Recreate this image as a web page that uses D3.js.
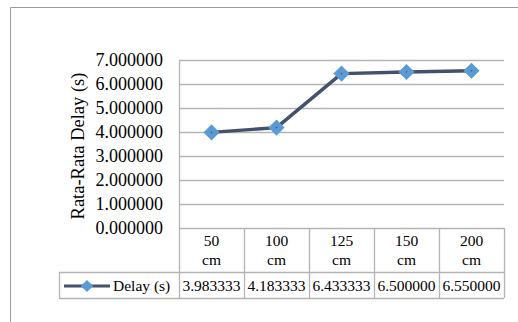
<!DOCTYPE html>
<html>
<head>
<meta charset="utf-8">
<script src="https://cdn.jsdelivr.net/npm/d3@7"></script>
<style>
  html, body { margin: 0; padding: 0; background: #fff; }
  svg { display: block; }
</style>
</head>
<body>
<svg id="chart" width="518" height="322" font-family="'Liberation Serif', 'Times New Roman', 'DejaVu Serif', serif"></svg>
<script>
// Average delay per distance
const categories = ["50 cm", "100 cm", "125 cm", "150 cm", "200 cm"];
const delayValues = [3.983333, 4.183333, 6.433333, 6.500000, 6.550000];
const yTicks = [0, 1, 2, 3, 4, 5, 6, 7];
const seriesName = "Delay (s)";
const yTitle = "Rata-Rata Delay (s)";

const svg = d3.select("#chart");
const W = 518, H = 322;
const serif = "'Liberation Serif', 'Times New Roman', 'DejaVu Serif', serif";

const plot = { left: 179, right: 504, top: 60, bottom: 228 };
const rowHeader = { top: 228, bottom: 272 };
const rowValues = { top: 272, bottom: 298 };
const legendLeft = 59;

const gridColor = "#b4b4b4";
const lineColor = "#42526a";
const markerColor = "#5b9bd5";

// Outer chart frame (top and left edges visible)
svg.append("path")
  .attr("d", `M10.5,${H} L10.5,7.5 L${W},7.5`)
  .attr("fill", "none").attr("stroke", "#9a9a9a").attr("stroke-width", 1);

const x = d3.scaleBand().domain(categories).range([plot.left, plot.right]);
const y = d3.scaleLinear().domain([0, 7]).range([plot.bottom, plot.top]);

// Horizontal gridlines
svg.append("g").selectAll("line").data(yTicks).join("line")
  .attr("x1", plot.left).attr("x2", plot.right)
  .attr("y1", d => Math.round(y(d)) + 0.5).attr("y2", d => Math.round(y(d)) + 0.5)
  .attr("stroke", gridColor).attr("stroke-width", 1.3);

// Y axis labels
const fmt = d3.format(".6f");
svg.append("g").selectAll("text").data(yTicks).join("text")
  .attr("font-family", serif)
  .attr("x", 163).attr("y", d => y(d))
  .attr("dy", "0.36em")
  .attr("text-anchor", "end")
  .attr("font-size", 18)
  .text(d => fmt(d));

// Y axis title
svg.append("text")
  .attr("font-family", serif)
  .attr("transform", `translate(84,${(plot.top + plot.bottom) / 2 + 2}) rotate(-90)`)
  .attr("text-anchor", "middle")
  .attr("font-size", 18.5)
  .text(yTitle);

// Data table grid
const tbl = svg.append("g").attr("stroke", gridColor).attr("stroke-width", 1.3).attr("fill", "none");
const colEdges = categories.map(c => x(c)).concat([plot.right]);
colEdges.forEach(cx => {
  const xx = Math.round(cx) + 0.5;
  tbl.append("line").attr("x1", xx).attr("x2", xx)
    .attr("y1", cx === plot.left ? plot.top : rowHeader.top)
    .attr("y2", rowValues.bottom);
});
tbl.append("line").attr("x1", legendLeft + 0.5).attr("x2", legendLeft + 0.5)
  .attr("y1", rowValues.top).attr("y2", rowValues.bottom);
tbl.append("line").attr("x1", legendLeft).attr("x2", plot.right)
  .attr("y1", rowValues.top + 0.5).attr("y2", rowValues.top + 0.5);
tbl.append("line").attr("x1", legendLeft).attr("x2", plot.right)
  .attr("y1", rowValues.bottom + 0.5).attr("y2", rowValues.bottom + 0.5);

// Category labels (two lines each)
const catG = svg.append("g").selectAll("text").data(categories).join("text")
  .attr("font-family", serif)
  .attr("text-anchor", "middle")
  .attr("font-size", 15.5);
catG.each(function(d) {
  const parts = d.split(" ");
  const t = d3.select(this);
  const cx = x(d) + x.bandwidth() / 2;
  t.append("tspan").attr("x", cx).attr("y", 246).text(parts[0]);
  t.append("tspan").attr("x", cx).attr("y", 265).text(parts[1]);
});

// Value row
svg.append("g").selectAll("text").data(delayValues).join("text")
  .attr("font-family", serif)
  .attr("x", (d, i) => x(categories[i]) + x.bandwidth() / 2)
  .attr("y", 291)
  .attr("text-anchor", "middle")
  .attr("font-size", 15.5)
  .text(d => fmt(d));

// Legend key inside the table
const legY = 286;
svg.append("line").attr("x1", 64).attr("x2", 110).attr("y1", legY).attr("y2", legY)
  .attr("stroke", lineColor).attr("stroke-width", 3.2);
svg.append("path")
  .attr("d", d3.symbol(d3.symbolSquare, 75)())
  .attr("transform", `translate(87,${legY}) rotate(45)`)
  .attr("fill", markerColor);
svg.append("text").attr("font-family", serif).attr("x", 113).attr("y", 291)
  .attr("font-size", 15.5).text(seriesName);

// Series line
const pts = delayValues.map((v, i) => [x(categories[i]) + x.bandwidth() / 2, y(v)]);
svg.append("path")
  .attr("d", d3.line()(pts))
  .attr("fill", "none").attr("stroke", lineColor).attr("stroke-width", 3.4)
  .attr("stroke-linejoin", "round");

// Diamond markers
const mk = svg.append("g").selectAll("g").data(pts).join("g")
  .attr("transform", d => `translate(${d[0]},${d[1]})`);
mk.append("path")
  .attr("d", d3.symbol(d3.symbolSquare, 130)())
  .attr("transform", "rotate(45)")
  .attr("fill", markerColor);
mk.append("circle").attr("r", 0.8).attr("fill", lineColor);
</script>
</body>
</html>
